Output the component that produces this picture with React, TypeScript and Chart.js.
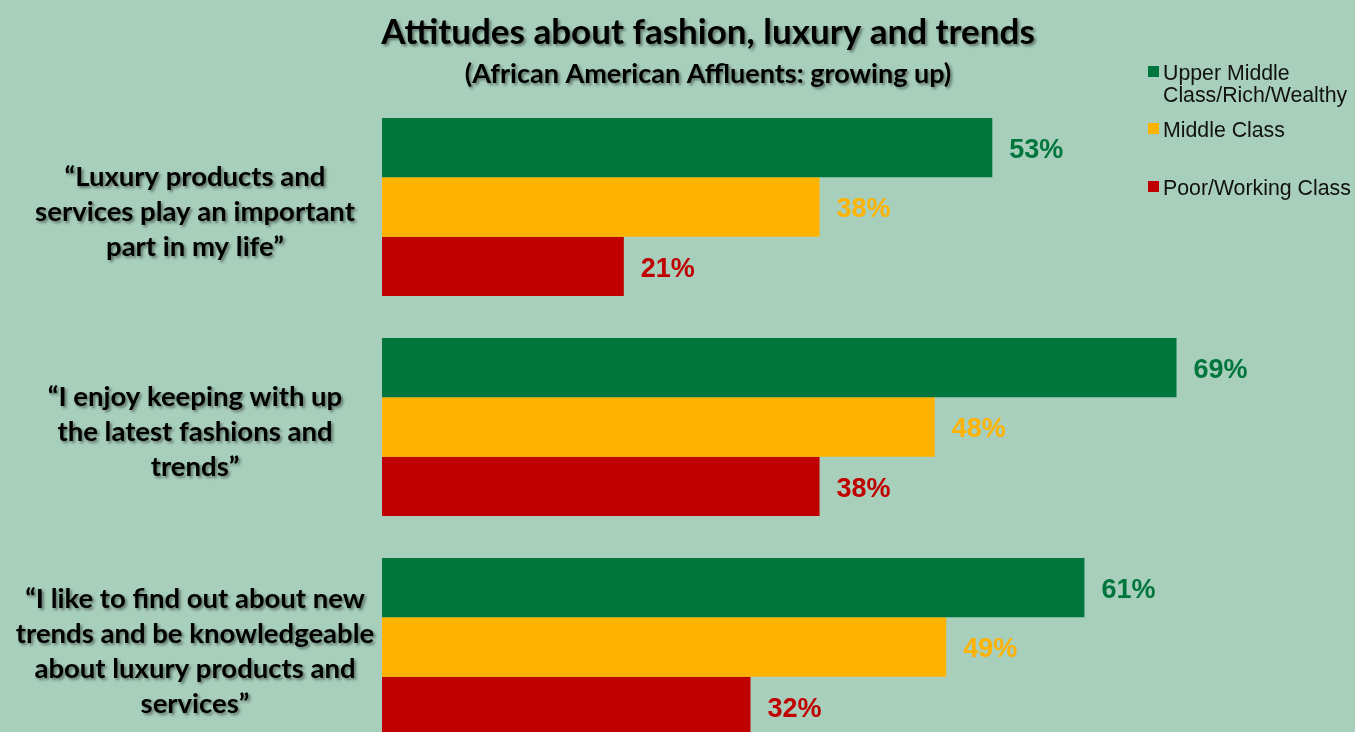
import React, { useEffect, useRef } from "react";
import { Chart, registerables } from "chart.js";

Chart.register(...registerables);

const TITLE = "Attitudes about fashion, luxury and trends";
const SUBTITLE = "(African American Affluents: growing up)";

const categories: string[][] = [
  ["\u201CLuxury products and", "services play an important", "part in my life\u201D"],
  ["\u201CI enjoy keeping with up", "the latest fashions and", "trends\u201D"],
  ["\u201CI like to find out about new", "trends and be knowledgeable", "about luxury products and", "services\u201D"],
];

const seriesNames = ["Upper Middle Class/Rich/Wealthy", "Middle Class", "Poor/Working Class"];
const legendLines: string[][] = [["Upper Middle", "Class/Rich/Wealthy"], ["Middle Class"], ["Poor/Working Class"]];
const upperValues = [53, 69, 61];
const middleValues = [38, 48, 49];
const poorValues = [21, 38, 32];

const GREEN = "#00763C";
const YELLOW = "#FFB200";
const RED = "#C00000";
const BG = "#A8CFBC";

const LABEL_FONT = "Lato";

const overlayPlugin = {
  id: "overlay",
  afterDatasetsDraw(chart: any) {
    const ctx: CanvasRenderingContext2D = chart.ctx;
    ctx.save();
    // Title + subtitle with shadow
    ctx.shadowColor = "rgba(0,0,0,0.45)";
    ctx.shadowOffsetX = 2;
    ctx.shadowOffsetY = 2;
    ctx.shadowBlur = 3;
    ctx.fillStyle = "#000";
    ctx.textAlign = "center";
    ctx.textBaseline = "alphabetic";
    ctx.font = `bold 35px ${LABEL_FONT}`;
    ctx.fillText(TITLE, 708, 44);
    ctx.font = `bold 27px ${LABEL_FONT}`;
    ctx.fillText(SUBTITLE, 708, 83);

    // Category labels
    const yScale = chart.scales.y;
    ctx.font = `bold 27.5px ${LABEL_FONT}`;
    ctx.textBaseline = "middle";
    const lh = 35;
    categories.forEach((lines, i) => {
      const cy = yScale.getPixelForValue(i) + 5;
      const start = cy - ((lines.length - 1) * lh) / 2;
      lines.forEach((t, j) => ctx.fillText(t, 195, start + j * lh));
    });
    ctx.restore();

    // Data labels
    ctx.save();
    ctx.font = "bold 27px 'Liberation Sans', Arial, sans-serif";
    ctx.textAlign = "left";
    ctx.textBaseline = "middle";
    chart.data.datasets.forEach((ds: any, di: number) => {
      const meta = chart.getDatasetMeta(di);
      meta.data.forEach((el: any, i: number) => {
        ctx.fillStyle = ds.backgroundColor;
        ctx.fillText(ds.data[i] + "%", el.x + 17, el.y + 3);
      });
    });

    // Legend
    ctx.font = "21.3px 'Liberation Sans', Arial, sans-serif";
    ctx.textBaseline = "alphabetic";
    const baselines = [[80, 102], [137], [195]];
    chart.data.datasets.forEach((ds: any, di: number) => {
      const b = baselines[di];
      ctx.fillStyle = ds.backgroundColor;
      ctx.fillRect(1148, b[0] - 14, 11, 11);
      ctx.fillStyle = "#111";
      legendLines[di].forEach((t, j) => ctx.fillText(t, 1163, b[j]));
    });
    ctx.restore();
  },
};

export default function App() {
  const ref = useRef<HTMLCanvasElement>(null);
  useEffect(() => {
    const chart = new Chart(ref.current!, {
      type: "bar",
      data: {
        labels: categories.map((c) => c.join(" ")),
        datasets: [
          { label: seriesNames[0], data: upperValues, backgroundColor: GREEN },
          { label: seriesNames[1], data: middleValues, backgroundColor: YELLOW },
          { label: seriesNames[2], data: poorValues, backgroundColor: RED },
        ],
      },
      options: {
        indexAxis: "y",
        responsive: false,
        animation: false,
        datasets: { bar: { categoryPercentage: 0.81, barPercentage: 1.0 } },
        layout: { padding: { left: 382, right: 0, top: 97, bottom: 3 } },
        scales: {
          x: { display: false, min: 0, max: 84.5 },
          y: { display: false },
        },
        plugins: { legend: { display: false }, tooltip: { enabled: false }, title: { display: false } },
      },
      plugins: [overlayPlugin],
    });
    return () => chart.destroy();
  }, []);
  return (
    <div style={{ position: "fixed", left: 0, top: 0, width: 1355, height: 732, overflow: "hidden", background: BG }}>
      <canvas ref={ref} width={1355} height={760} style={{ display: "block" }} />
    </div>
  );
}
